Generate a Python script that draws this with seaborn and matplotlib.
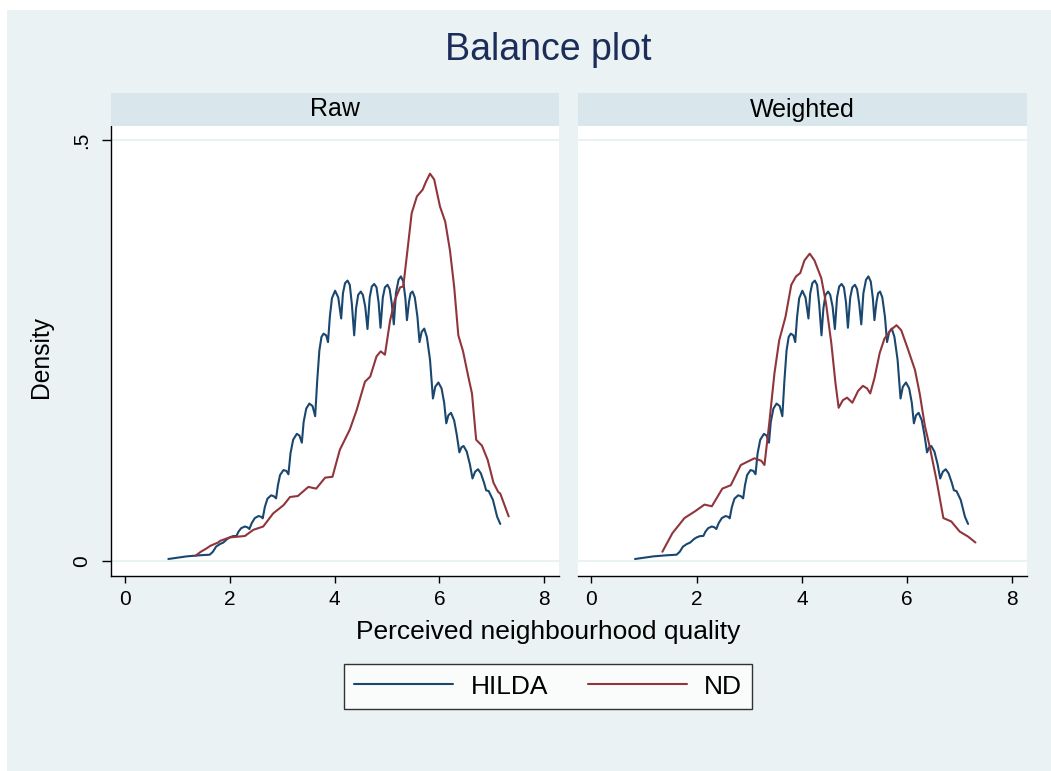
import matplotlib
matplotlib.use("Agg")
import matplotlib.pyplot as plt
from matplotlib.patches import Rectangle
import seaborn as sns
import pandas as pd

# ---------------- data ----------------
panels = ["Raw", "Weighted"]
groups = ["HILDA", "ND"]
x_ticks = [0, 2, 4, 6, 8]
y_ticks = [0, 0.5]
y_tick_labels = ["0", ".5"]

hilda_x = [0.83, 1.18, 1.43, 1.62, 1.68, 1.74, 1.81, 1.88, 1.95, 2.0, 2.06, 2.13,
           2.17, 2.22, 2.29, 2.34, 2.376, 2.42, 2.48, 2.55, 2.60, 2.63,
           2.67, 2.72, 2.79, 2.84, 2.885, 2.92, 2.96, 3.025, 3.08, 3.12,
           3.16, 3.21, 3.28, 3.33, 3.376, 3.41, 3.46, 3.52, 3.58, 3.63,
           3.67, 3.71, 3.75, 3.79, 3.84, 3.875, 3.91, 3.95, 4.01, 4.07, 4.126,
           4.16, 4.20, 4.247, 4.29, 4.33, 4.374, 4.41, 4.45, 4.50, 4.54, 4.585, 4.628,
           4.67, 4.71, 4.756, 4.80, 4.84, 4.876, 4.92, 4.96, 5.01, 5.05, 5.09, 5.13,
           5.17, 5.22, 5.265, 5.31, 5.35, 5.38, 5.42, 5.45, 5.487, 5.53, 5.58, 5.62,
           5.66, 5.71, 5.76, 5.82, 5.876, 5.92, 5.98, 6.04, 6.09, 6.13,
           6.17, 6.22, 6.28, 6.33, 6.38, 6.42, 6.46, 6.52, 6.58, 6.63,
           6.68, 6.735, 6.79, 6.85, 6.89, 6.94, 7.02, 7.10, 7.16]
hilda_d = [0.0024, 0.0055, 0.0068, 0.0075, 0.011, 0.017, 0.020, 0.022, 0.026, 0.028, 0.0295, 0.0298,
           0.035, 0.039, 0.041, 0.040, 0.038, 0.045, 0.051, 0.0534, 0.0525, 0.0507,
           0.064, 0.074, 0.078, 0.077, 0.0744, 0.090, 0.102, 0.108, 0.107, 0.103,
           0.128, 0.144, 0.151, 0.149, 0.1405, 0.165, 0.181, 0.187, 0.184, 0.172,
           0.215, 0.250, 0.266, 0.270, 0.268, 0.260, 0.290, 0.312, 0.321, 0.313, 0.288,
           0.318, 0.330, 0.333, 0.328, 0.305, 0.268, 0.300, 0.316, 0.320, 0.316, 0.302, 0.2755,
           0.313, 0.326, 0.329, 0.325, 0.307, 0.277, 0.313, 0.325, 0.328, 0.323, 0.306, 0.281,
           0.318, 0.334, 0.338, 0.332, 0.312, 0.286, 0.308, 0.318, 0.320, 0.313, 0.290, 0.260,
           0.272, 0.276, 0.266, 0.239, 0.193, 0.207, 0.212, 0.205, 0.188, 0.1635,
           0.173, 0.176, 0.167, 0.150, 0.129, 0.135, 0.1366, 0.130, 0.115, 0.098,
           0.106, 0.109, 0.104, 0.093, 0.084, 0.083, 0.0725, 0.0526, 0.044]

nd_raw_x = [1.35, 1.45, 1.56, 1.63, 1.78, 1.82, 2.0, 2.29, 2.45, 2.64, 2.83, 2.96, 3.03, 3.15,
            3.30, 3.50, 3.65, 3.82, 3.96, 4.10, 4.29, 4.42, 4.58, 4.68, 4.80, 4.88, 4.96,
            5.06, 5.15, 5.25, 5.31, 5.39, 5.47, 5.57, 5.68, 5.74, 5.82, 5.90, 6.01, 6.11,
            6.20, 6.28, 6.36, 6.45, 6.55, 6.62, 6.70, 6.81, 6.92, 7.03, 7.12, 7.16, 7.32]
nd_raw_d = [0.0063, 0.011, 0.015, 0.018, 0.022, 0.024, 0.028, 0.0297, 0.037, 0.041, 0.0566, 0.063, 0.0665, 0.076,
            0.0772, 0.088, 0.086, 0.099, 0.100, 0.132, 0.156, 0.179, 0.213, 0.219, 0.243, 0.249, 0.245,
            0.286, 0.310, 0.325, 0.326, 0.369, 0.413, 0.433, 0.441, 0.450, 0.460, 0.453, 0.421, 0.403,
            0.369, 0.326, 0.268, 0.249, 0.219, 0.199, 0.144, 0.137, 0.120, 0.093, 0.082, 0.080, 0.053]

nd_w_x = [1.35, 1.54, 1.77, 1.97, 2.15, 2.29, 2.49, 2.65, 2.84, 3.10, 3.23, 3.29, 3.38, 3.48,
          3.57, 3.69, 3.80, 3.89, 3.97, 4.05, 4.15, 4.24, 4.37, 4.46, 4.56, 4.64, 4.70,
          4.78, 4.86, 4.96, 5.07, 5.16, 5.24, 5.30, 5.38, 5.48, 5.57, 5.70, 5.80, 5.89,
          6.02, 6.15, 6.24, 6.34, 6.43, 6.56, 6.69, 6.84, 7.00, 7.16, 7.30]
nd_w_d = [0.011, 0.033, 0.051, 0.059, 0.067, 0.065, 0.086, 0.090, 0.114, 0.122, 0.119, 0.114, 0.163, 0.223,
          0.262, 0.290, 0.328, 0.338, 0.342, 0.357, 0.365, 0.357, 0.336, 0.306, 0.259, 0.211, 0.182,
          0.191, 0.194, 0.188, 0.202, 0.208, 0.205, 0.199, 0.217, 0.247, 0.264, 0.275, 0.280, 0.274,
          0.251, 0.227, 0.199, 0.160, 0.136, 0.096, 0.051, 0.047, 0.035, 0.029, 0.022]

series = {
    ("Raw", "HILDA"): (hilda_x, hilda_d),
    ("Raw", "ND"): (nd_raw_x, nd_raw_d),
    ("Weighted", "HILDA"): (hilda_x, hilda_d),
    ("Weighted", "ND"): (nd_w_x, nd_w_d),
}
rows = []
for (p, g), (xs, ds) in series.items():
    for i, (xv, dv) in enumerate(zip(xs, ds)):
        rows.append({"panel": p, "group": g, "order": i, "x": xv, "density": dv})
df = pd.DataFrame(rows)

# ---------------- style ----------------
sns.set_theme(style="white")
plt.rcParams["font.family"] = ["Liberation Sans", "DejaVu Sans"]
plt.rcParams["text.color"] = "black"
plt.rcParams["axes.labelcolor"] = "black"
plt.rcParams["xtick.color"] = "black"
plt.rcParams["ytick.color"] = "black"
plt.rcParams["xtick.labelcolor"] = "black"
plt.rcParams["ytick.labelcolor"] = "black"

W, H = 1051, 771
BG = "#EAF2F3"
STRIP = "#D9E6EB"
GRID = "#EAF2F3"
palette = {"HILDA": "#1A476F", "ND": "#90353B"}

fig = plt.figure(figsize=(W / 100, H / 100), dpi=100)
fig.patch.set_facecolor("white")
fig.add_artist(Rectangle((7 / W, 0), 1 - 7 / W, (H - 10) / H, transform=fig.transFigure,
                         facecolor=BG, edgecolor="none", zorder=-10))


def box(x0, y0, x1, y1):
    return [x0 / W, 1 - y1 / H, (x1 - x0) / W, (y1 - y0) / H]


ax_pos = [box(111, 126, 558.5, 576), box(577.5, 126, 1026.5, 576)]
strip_pos = [box(111, 93, 558.5, 126), box(577.5, 93, 1026.5, 126)]

axes = []
for i, p in enumerate(panels):
    ax = fig.add_axes(ax_pos[i])
    ax.set_facecolor("white")
    sub = df[df["panel"] == p]
    sns.lineplot(data=sub, x="x", y="density", hue="group", units="group", estimator=None,
                 sort=False, palette=palette, hue_order=groups, linewidth=1.5,
                 legend=(i == 0), ax=ax, zorder=3)
    for yv in y_ticks:
        ax.axhline(yv, color=GRID, linewidth=1.5, zorder=1)
    ax.set_xlim(-0.263, 8.27)
    ax.set_ylim(-0.0178, 0.5166)
    ax.set_xticks(x_ticks)
    ax.set_xticklabels([str(t) for t in x_ticks], fontsize=15, color="black")
    ax.tick_params(axis="x", direction="out", length=5, width=1, color="black", pad=5,
                   bottom=True)
    for s in ["top", "right"]:
        ax.spines[s].set_visible(False)
    ax.spines["bottom"].set_color("black")
    ax.spines["bottom"].set_linewidth(1.0)
    if i == 0:
        ax.spines["left"].set_color("black")
        ax.spines["left"].set_linewidth(1.0)
        ax.set_yticks(y_ticks)
        ax.set_yticklabels(y_tick_labels, rotation=90, va="center", fontsize=15, color="black")
        ax.tick_params(axis="y", direction="out", length=6.5, width=1, color="black", pad=8,
                       left=True)
    else:
        ax.spines["left"].set_visible(False)
        ax.set_yticks([])
    ax.set_ylabel("")
    ax.set_xlabel("")
    axes.append(ax)

    sax = fig.add_axes(strip_pos[i])
    sax.set_facecolor(STRIP)
    sax.set_xticks([])
    sax.set_yticks([])
    for s in sax.spines.values():
        s.set_visible(False)
    sax.text(0.5, 0.5, p, ha="center", va="center", fontsize=18, color="black",
             transform=sax.transAxes)

handles, labels = axes[0].get_legend_handles_labels()
axes[0].get_legend().remove()
leg = fig.legend(handles, labels, loc="center", bbox_to_anchor=(548 / W, 1 - 686.5 / H),
                 ncol=2, frameon=True, fancybox=False, edgecolor="black", facecolor="white",
                 fontsize=19, handlelength=3.75, handletextpad=0.65, columnspacing=1.5,
                 borderpad=0.4, borderaxespad=0, labelcolor="black")
leg.get_frame().set_linewidth(1.0)

fig.text(41 / W, 1 - 357 / H, "Density", ha="center", va="center", rotation=90,
         fontsize=17.7, color="black")
fig.text(548 / W, 1 - 632 / H, "Perceived neighbourhood quality", ha="center", va="center",
         fontsize=19, color="black")
fig.text(548 / W, 1 - 50 / H, "Balance plot", ha="center", va="center", fontsize=27,
         color="#1C2D5A")

fig.savefig("out.png", dpi=100, facecolor=fig.get_facecolor())
